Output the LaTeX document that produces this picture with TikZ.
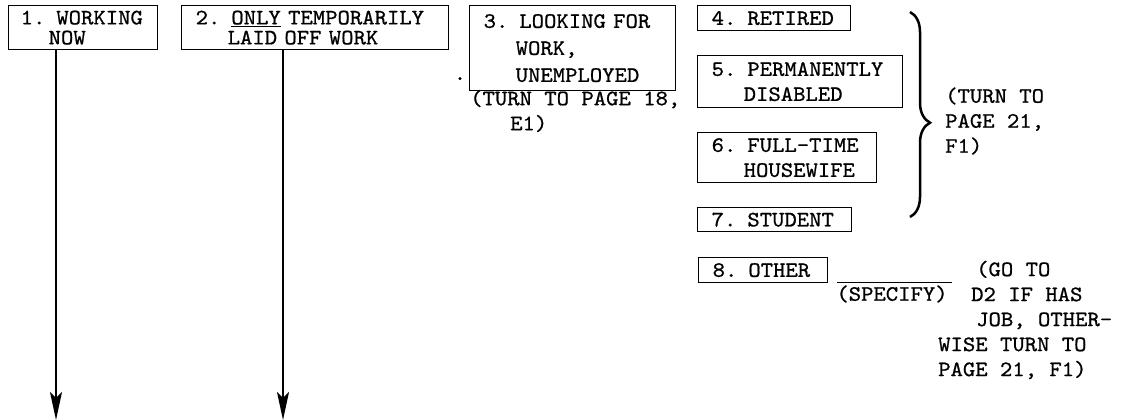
\documentclass[tikz,border=0pt]{standalone}
\usepackage{fontspec}
\usetikzlibrary{arrows.meta,decorations.pathreplacing}

\newfontfamily\twfont{lmmono10-regular.otf}[FakeStretch=1.07,FakeBold=0.8]
\newcommand{\typed}{\twfont\fontsize{22}{25}\selectfont\hyphenpenalty=10000 \spaceskip=12.36pt\xspaceskip=12.36pt }

\tikzset{
  choice/.style={draw, line width=1.3pt, anchor=north west, inner xsep=14pt, inner ysep=0pt, align=left, font=\typed},
  note/.style={anchor=west, inner sep=0pt, align=left, font=\typed},
  down/.style={line width=1.8pt, -{Stealth[length=28pt,width=12pt,inset=6pt]}}
}

\begin{document}
\begin{tikzpicture}[x=1pt,y=-1pt]
  \useasboundingbox (0,0) rectangle (1127,420);

  % answer boxes
  \node[choice, inner xsep=12pt, text width=125pt, minimum height=44pt] (r1) at (8,5) {1. WORKING\\[-5pt]\hspace*{28pt}NOW};
  \node[choice, text width=239pt, minimum height=44pt] (r2) at (181,5) {2. \underline{ONLY} TEMPORARILY\\[-5pt]\phantom{2.~}LAID OFF WORK};
  \node[choice, text width=178pt, minimum height=85pt] (r3) at (469,5) {3. LOOKING FOR\\[2pt]\phantom{3.~}WORK,\\[2pt]\phantom{3.~}UNEMPLOYED};
  \node[choice, text width=125pt, minimum height=25pt] (r4) at (697,5) {4. RETIRED};
  \node[choice, text width=177pt, minimum height=52pt] (r5) at (697,55) {5. PERMANENTLY\\\phantom{5.~}DISABLED};
  \node[choice, text width=151pt, minimum height=50pt] (r6) at (697,132) {6. FULL-TIME\\\phantom{6.~}HOUSEWIFE};
  \node[choice, text width=126pt, minimum height=24pt] (r7) at (697,207) {7. STUDENT};
  \node[choice, text width=101pt, minimum height=25pt] (r8) at (698,257) {8. OTHER};

  % skip instructions
  \node[anchor=base, inner sep=0pt, font=\typed] (dot) at (460,80) {.};
  \node[note] (n3) at (470,111) {(TURN TO PAGE 18,\\\hspace*{40pt}E1)};
  \draw[decorate, decoration={brace, amplitude=20pt, aspect=0.54}, line width=2.5pt] (910,12) -- (910,217);
  \node[note] (n47) at (945,121) {(TURN TO\\PAGE 21,\\F1)};
  \draw[line width=1pt] (837,282) -- (952,282);
  \node[anchor=center, inner sep=0pt, font=\typed] (spec) at (892,294) {(SPECIFY)};
  \node[note] (n8) at (938,320) {\hspace*{38pt}(GO TO\\\hspace*{33pt}D2 IF HAS\\\hspace*{38pt}JOB, OTHER-\\WISE TURN TO\\PAGE 21, F1)};

  % arrows down
  \coordinate (a1) at (56,420);
  \coordinate (a2) at (283,420);
  \draw[down] (r1.south -| a1) -- (a1);
  \draw[down] (r2.south -| a2) -- (a2);
\end{tikzpicture}
\end{document}
